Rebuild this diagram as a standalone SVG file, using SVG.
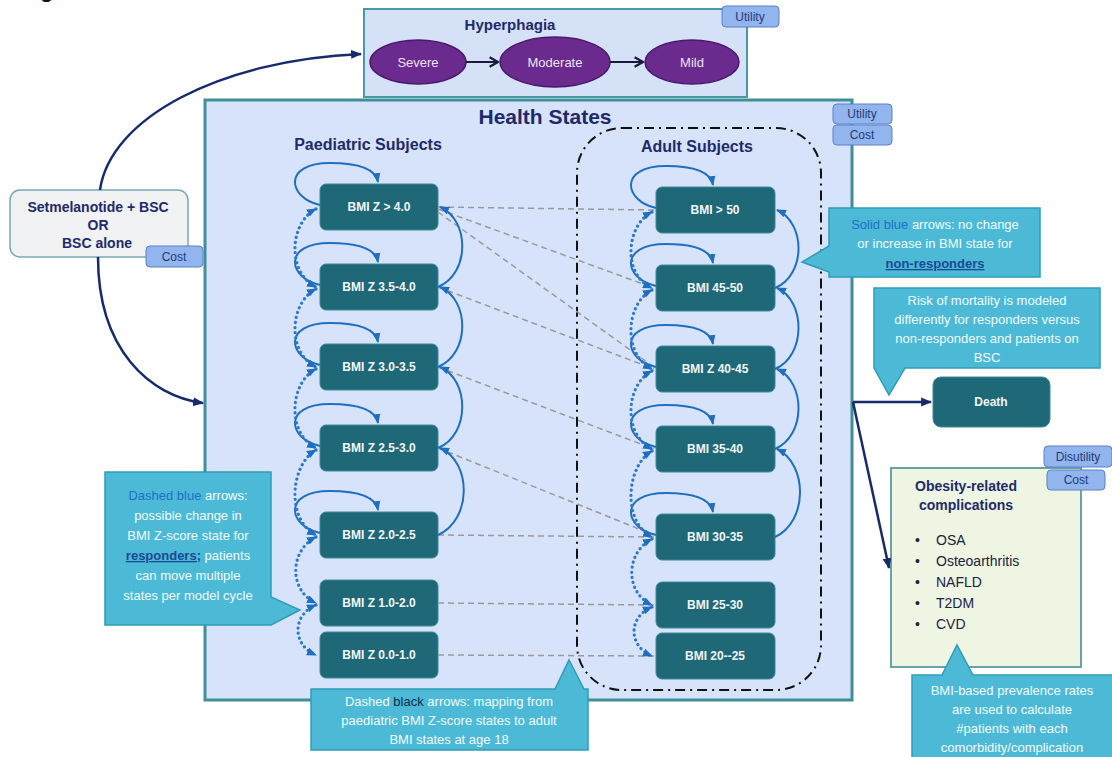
<svg xmlns="http://www.w3.org/2000/svg" width="1112" height="757" viewBox="0 0 1112 757">
<defs>
<style>
text{font-family:"Liberation Sans",Arial,sans-serif}
.node{fill:#1e6878;stroke:#3f8a98;stroke-width:1}
.nt{fill:#f2f6f7;font-size:12px;font-weight:bold;text-anchor:middle}
.ell{fill:#6a2a8e;stroke:#4a1a6a;stroke-width:1.5}
.et{fill:#ece4f3;font-size:13px;text-anchor:middle}
.tab{fill:#93b5ee;stroke:#5a80c8;stroke-width:1}
.tt{fill:#1f3a7a;font-size:12px;text-anchor:middle}
.hdr{fill:#1e2a6a;font-weight:bold;text-anchor:middle}
.call{fill:#4cbad7;stroke:#2f9cb8;stroke-width:1.5}
.ct{fill:#f2fafd;font-size:13px;text-anchor:middle}
.blu{fill:#1f6fc4}
.ul{fill:#1a4a92;font-weight:bold;text-decoration:underline}
.loop{fill:none;stroke:#1f6fc0;stroke-width:2;marker-end:url(#ab)}
.dot{fill:none;stroke:#2f78c8;stroke-width:3.2;stroke-linecap:round;stroke-dasharray:0.1 5;marker-start:url(#ab);marker-end:url(#ab)}
.map{fill:none;stroke:#9a9a9a;stroke-width:1.5;stroke-dasharray:6 4}
.navy{fill:none;stroke:#172a6b;stroke-width:2.5;marker-end:url(#an)}
</style>
<marker id="ab" viewBox="0 0 10 10" refX="9" refY="5" markerWidth="10" markerHeight="10" orient="auto-start-reverse" markerUnits="userSpaceOnUse"><path d="M0,1 L10,5 L0,9 z" fill="#1f6fc0"/></marker>
<marker id="an" viewBox="0 0 10 10" refX="9" refY="5" markerWidth="11" markerHeight="11" orient="auto" markerUnits="userSpaceOnUse"><path d="M0,1 L10,5 L0,9 z" fill="#172a6b"/></marker>
<marker id="ao" viewBox="0 0 10 10" refX="9" refY="5" markerWidth="12" markerHeight="12" orient="auto" markerUnits="userSpaceOnUse"><path d="M2,1 L9,5 L2,9" fill="none" stroke="#1a1a40" stroke-width="1.8"/></marker>
</defs>

<rect width="1112" height="757" fill="#ffffff"/>
<text x="40" y="-3" font-size="22" font-weight="bold" fill="#111">g</text>

<!-- Hyperphagia -->
<g id="hyperphagia">
<rect x="364" y="9" width="383" height="88" fill="#d5e1f7" stroke="#4a98a4" stroke-width="2"/>
<text x="510" y="30" class="hdr" font-size="15">Hyperphagia</text>
<rect class="tab" x="722" y="6" width="57" height="21" rx="4"/>
<text class="tt" x="750" y="21">Utility</text>
</g>
<g id="severe"><ellipse class="ell" cx="418" cy="62" rx="48" ry="22"/><text class="et" x="418" y="67">Severe</text></g>
<g id="moderate"><ellipse class="ell" cx="555" cy="62" rx="55" ry="25"/><text class="et" x="555" y="67">Moderate</text></g>
<g id="mild"><ellipse class="ell" cx="692" cy="62" rx="47" ry="22"/><text class="et" x="692" y="67">Mild</text></g>

<!-- Health states -->
<g id="health-states">
<rect x="205" y="100" width="647" height="600" fill="#d7e3fa" stroke="#3f8e98" stroke-width="3"/>
<text x="545" y="124" class="hdr" font-size="21">Health States</text>
<rect class="tab" x="833" y="104" width="59" height="20" rx="4"/>
<text class="tt" x="862" y="118">Utility</text>
<rect class="tab" x="833" y="125" width="59" height="20" rx="4"/>
<text class="tt" x="862" y="139">Cost</text>
<text x="368" y="150" class="hdr" font-size="16">Paediatric Subjects</text>
<rect x="577" y="128" width="244" height="562" rx="45" fill="none" stroke="#111" stroke-width="2" stroke-dasharray="10 5 2 5"/>
<text x="697" y="152" class="hdr" font-size="16">Adult Subjects</text>
</g>

<!-- Left box -->
<g id="treatment">
<rect x="10" y="190" width="178" height="67" rx="10" fill="#f1f2f3" stroke="#7aa9b2" stroke-width="1.5"/>
<text x="98" y="212" class="hdr" font-size="14">Setmelanotide + BSC</text>
<text x="98" y="230" class="hdr" font-size="14">OR</text>
<text x="97" y="248" class="hdr" font-size="14">BSC alone</text>
<rect class="tab" x="146" y="246" width="57" height="21" rx="4"/>
<text class="tt" x="174" y="261">Cost</text>
</g>

<!-- Paediatric nodes -->
<g id="pz40"><rect class="node" x="320" y="184" width="118" height="46" rx="6"/><text class="nt" x="379" y="211">BMI Z &gt; 4.0</text></g>
<g id="pz35"><rect class="node" x="320" y="264" width="118" height="46" rx="6"/><text class="nt" x="379" y="291">BMI Z 3.5-4.0</text></g>
<g id="pz30"><rect class="node" x="320" y="344" width="118" height="46" rx="6"/><text class="nt" x="379" y="371">BMI Z 3.0-3.5</text></g>
<g id="pz25"><rect class="node" x="320" y="425" width="118" height="46" rx="6"/><text class="nt" x="379" y="452">BMI Z 2.5-3.0</text></g>
<g id="pz20"><rect class="node" x="320" y="512" width="118" height="46" rx="6"/><text class="nt" x="379" y="539">BMI Z 2.0-2.5</text></g>
<g id="pz10"><rect class="node" x="320" y="580" width="118" height="46" rx="6"/><text class="nt" x="379" y="607">BMI Z 1.0-2.0</text></g>
<g id="pz00"><rect class="node" x="320" y="632" width="118" height="46" rx="6"/><text class="nt" x="379" y="659">BMI Z 0.0-1.0</text></g>

<!-- Adult nodes -->
<g id="a50"><rect class="node" x="656" y="187" width="119" height="46" rx="6"/><text class="nt" x="715" y="214">BMI  &gt; 50</text></g>
<g id="a45"><rect class="node" x="656" y="265" width="119" height="46" rx="6"/><text class="nt" x="715" y="292">BMI 45-50</text></g>
<g id="a40"><rect class="node" x="656" y="346" width="119" height="46" rx="6"/><text class="nt" x="715" y="373">BMI Z 40-45</text></g>
<g id="a35"><rect class="node" x="656" y="426" width="119" height="46" rx="6"/><text class="nt" x="715" y="453">BMI 35-40</text></g>
<g id="a30"><rect class="node" x="656" y="514" width="119" height="46" rx="6"/><text class="nt" x="715" y="541">BMI 30-35</text></g>
<g id="a25"><rect class="node" x="656" y="582" width="119" height="46" rx="6"/><text class="nt" x="715" y="609">BMI 25-30</text></g>
<g id="a20"><rect class="node" x="656" y="633" width="119" height="46" rx="6"/><text class="nt" x="715" y="660">BMI 20--25</text></g>

<!-- Death -->
<g id="death"><rect class="node" x="933" y="377" width="117" height="50" rx="8"/><text class="nt" x="991" y="406" font-size="13">Death</text></g>

<!-- Obesity complications -->
<g id="complications">
<rect x="891" y="468" width="190" height="199" fill="#eef5e3" stroke="#6aa2a9" stroke-width="2"/>
<text x="966" y="491" class="hdr" font-size="14">Obesity-related</text>
<text x="966" y="510" class="hdr" font-size="14">complications</text>
<g font-size="14" fill="#1b2240">
<text x="915" y="545">•</text><text x="936" y="545" fill="#1b2240">OSA</text>
<text x="915" y="566">•</text><text x="936" y="566" fill="#1b2240">Osteoarthritis</text>
<text x="915" y="587">•</text><text x="936" y="587" fill="#1b2240">NAFLD</text>
<text x="915" y="608">•</text><text x="936" y="608" fill="#1b2240">T2DM</text>
<text x="915" y="629">•</text><text x="936" y="629" fill="#1b2240">CVD</text>
</g>
<rect class="tab" x="1044" y="446" width="68" height="21" rx="4"/>
<text class="tt" x="1078" y="461">Disutility</text>
<rect class="tab" x="1047" y="470" width="58" height="20" rx="4"/>
<text class="tt" x="1076" y="484">Cost</text>
</g>

<!-- Connectors -->
<g id="connectors">
<path d="M466,62 L498,62" fill="none" stroke="#1a1a40" stroke-width="2" marker-end="url(#ao)"/>
<path d="M610,62 L643,62" fill="none" stroke="#1a1a40" stroke-width="2" marker-end="url(#ao)"/>
<path class="navy" d="M100,190 C110,118 220,60 361,54"/>
<path class="navy" d="M98,257 C98,350 150,396 203,403"/>
<path class="navy" d="M853,402 L931,402"/>
<path class="navy" d="M853,402 L889,568"/>

<!-- mapping dashed -->
<path class="map" d="M438,207 L654,210"/>
<path class="map" d="M438,209 L654,288"/>
<path class="map" d="M438,212 L654,367"/>
<path class="map" d="M438,287 L654,369"/>
<path class="map" d="M438,367 L654,449"/>
<path class="map" d="M438,448 L654,535"/>
<path class="map" d="M438,535 L654,537"/>
<path class="map" d="M438,603 L654,605"/>
<path class="map" d="M438,655 L654,656"/>

<!-- paediatric self loops -->
<path class="loop" d="M320,205 C288,198 282,163 330,163 C362,163 376,171 378,182"/>
<path class="loop" d="M320,285 C288,278 282,243 330,243 C362,243 376,251 378,262"/>
<path class="loop" d="M320,365 C288,358 282,323 330,323 C362,323 376,331 378,342"/>
<path class="loop" d="M320,446 C288,439 282,404 330,404 C362,404 376,412 378,423"/>
<path class="loop" d="M320,533 C288,526 282,491 330,491 C362,491 376,499 378,510"/>
<!-- adult self loops -->
<path class="loop" d="M656,208 C624,201 618,166 666,166 C698,166 711,174 713,185"/>
<path class="loop" d="M656,286 C624,279 618,244 666,244 C698,244 711,252 713,263"/>
<path class="loop" d="M656,367 C624,360 618,325 666,325 C698,325 711,333 713,344"/>
<path class="loop" d="M656,447 C624,440 618,405 666,405 C698,405 711,413 713,424"/>
<path class="loop" d="M656,535 C624,528 618,493 666,493 C698,493 711,501 713,512"/>

<!-- paediatric right arcs -->
<path class="loop" d="M438,287 C470,274 470,220 440,207"/>
<path class="loop" d="M438,367 C470,354 470,300 440,287"/>
<path class="loop" d="M438,448 C470,435 470,380 440,367"/>
<path class="loop" d="M438,535 C472,520 472,462 440,448"/>
<!-- adult right arcs -->
<path class="loop" d="M775,288 C806,275 806,223 777,210"/>
<path class="loop" d="M775,369 C806,356 806,301 777,288"/>
<path class="loop" d="M775,449 C806,436 806,382 777,369"/>
<path class="loop" d="M775,537 C808,522 808,464 777,449"/>

<!-- paediatric dotted -->
<path class="dot" d="M316,209 C290,222 286,272 316,287"/>
<path class="dot" d="M316,289 C290,302 286,352 316,367"/>
<path class="dot" d="M316,369 C290,382 286,433 316,448"/>
<path class="dot" d="M316,450 C290,465 286,520 316,535"/>
<path class="dot" d="M316,537 C290,550 288,590 316,603"/>
<path class="dot" d="M316,605 C292,615 292,645 316,655"/>
<!-- adult dotted -->
<path class="dot" d="M652,212 C626,225 622,275 652,288"/>
<path class="dot" d="M652,290 C626,303 622,354 652,369"/>
<path class="dot" d="M652,371 C626,384 622,434 652,449"/>
<path class="dot" d="M652,451 C626,466 622,522 652,537"/>
<path class="dot" d="M652,539 C626,552 624,592 652,605"/>
<path class="dot" d="M652,607 C628,617 628,646 652,656"/>
</g>

<!-- Callouts -->
<g id="callout-solid">
<path class="call" d="M829,208 H1040 V277 H829 V272 L802,262 L829,246 Z"/>
<text class="ct" x="935" y="229"><tspan class="blu">Solid blue</tspan> arrows: no change</text>
<text class="ct" x="935" y="248">or increase in BMI state for</text>
<text class="ct" x="935" y="268"><tspan class="ul">non-responders</tspan></text>
</g>
<g id="callout-mortality">
<path class="call" d="M874,288 H1100 V368 H905 L889,395 L874,368 Z"/>
<text class="ct" x="987" y="305">Risk of mortality is modeled</text>
<text class="ct" x="987" y="324">differently for responders versus</text>
<text class="ct" x="987" y="343">non-responders and patients on</text>
<text class="ct" x="987" y="362">BSC</text>
</g>
<g id="callout-dashed-blue">
<path class="call" d="M105,472 H271 V597 L300,610 L271,625 H105 Z"/>
<text class="ct" x="188" y="500"><tspan class="blu">Dashed blue</tspan> arrows:</text>
<text class="ct" x="188" y="520">possible change in</text>
<text class="ct" x="188" y="540">BMI Z-score state for</text>
<text class="ct" x="188" y="560"><tspan class="ul">responders;</tspan> patients</text>
<text class="ct" x="188" y="580">can move multiple</text>
<text class="ct" x="188" y="600">states per model cycle</text>
</g>
<g id="callout-dashed-black">
<path class="call" d="M311,689 H555 L569,660 L584,689 H588 V750 H311 Z"/>
<text class="ct" x="449" y="706">Dashed <tspan fill="#0f2a4a">black</tspan> arrows: mapping from</text>
<text class="ct" x="449" y="725">paediatric BMI Z-score states to adult</text>
<text class="ct" x="449" y="744">BMI states at age 18</text>
</g>
<g id="callout-prevalence">
<path class="call" d="M912,675 H942 L957,645 L973,675 H1114 V759 H912 Z"/>
<text class="ct" x="1012" y="695">BMI-based prevalence rates</text>
<text class="ct" x="1012" y="714">are used to calculate</text>
<text class="ct" x="1012" y="733">#patients with each</text>
<text class="ct" x="1012" y="752">comorbidity/complication</text>
</g>
</svg>
